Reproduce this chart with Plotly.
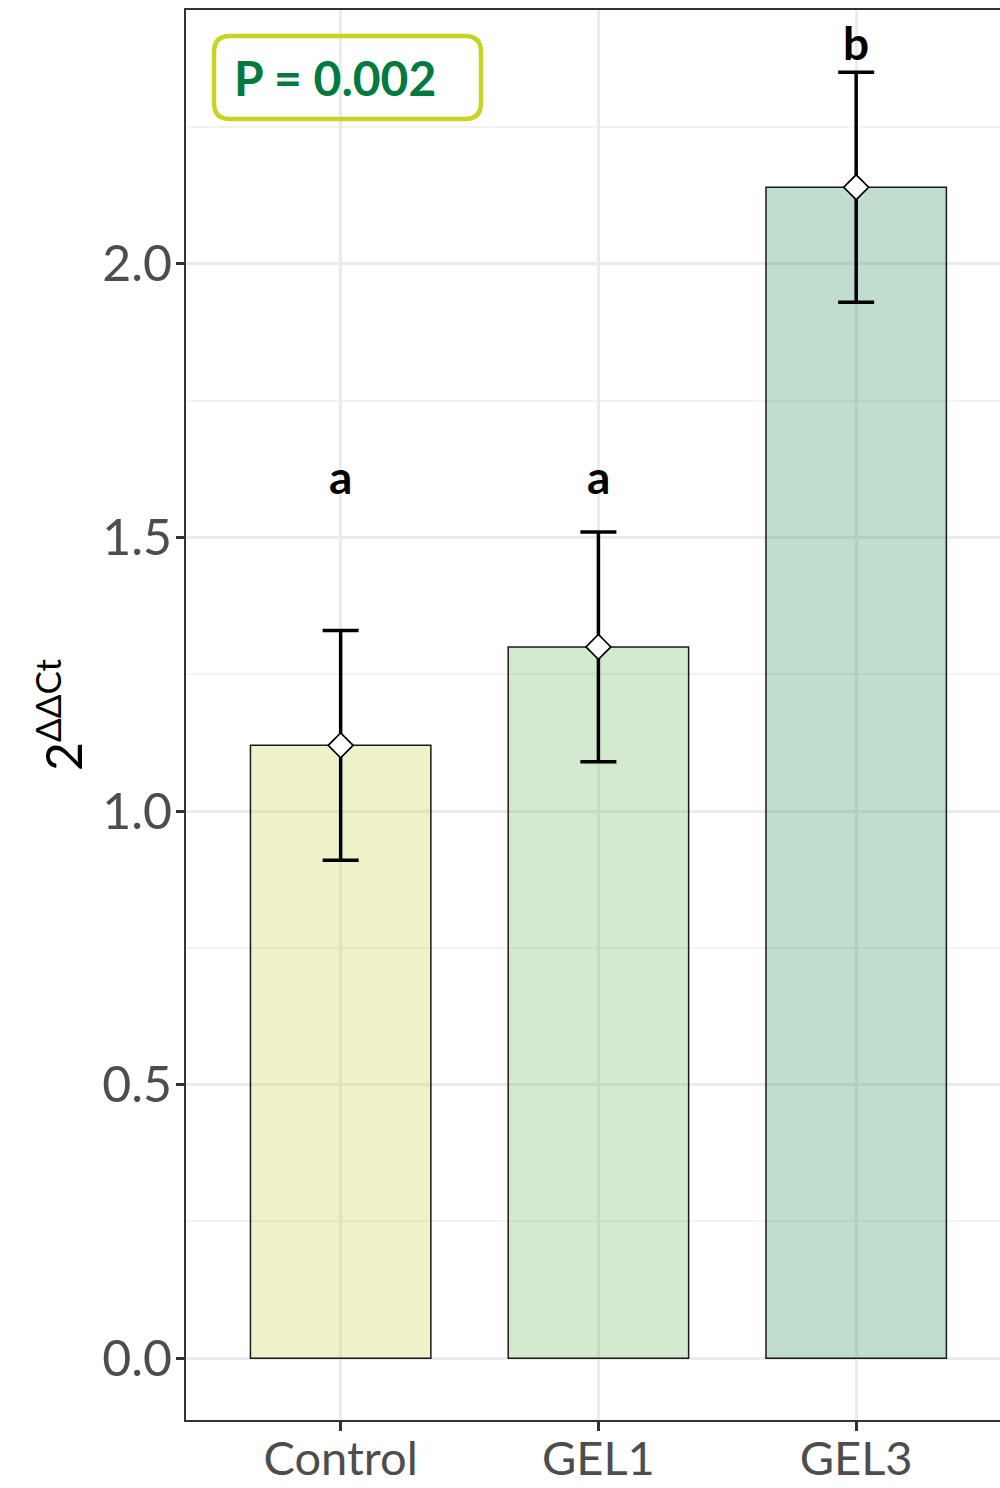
import plotly.graph_objects as go

# Relative expression (2^-ΔΔCt) per treatment group
groups = ["Control", "GEL1", "GEL3"]
means = [1.12, 1.30, 2.14]
errors = [0.21, 0.21, 0.21]
letters = ["a", "a", "b"]
letter_y = [1.612, 1.612, 2.404]
bar_colors = ["rgba(202,212,72,0.3)", "rgba(108,185,95,0.3)", "rgba(48,142,98,0.3)"]
y_ticks = [0.0, 0.5, 1.0, 1.5, 2.0]
p_label = "P = 0.002"

W, H = 1000, 1488
ML, MR, MT, MB = 186, 0, 10, 68
PW, PH = W - ML - MR, H - MT - MB

xpos = [1, 2, 3]

fig = go.Figure()

fig.add_trace(go.Bar(
    x=xpos, y=means, width=0.7,
    marker=dict(color=bar_colors, line=dict(color="#1a1a1a", width=1.5)),
    hoverinfo="skip", showlegend=False,
))

fig.add_trace(go.Scatter(
    x=xpos, y=means, mode="markers",
    marker=dict(symbol="diamond", size=19, color="white",
                line=dict(color="black", width=1.5)),
    error_y=dict(type="data", array=errors, visible=True,
                 color="black", thickness=3.5, width=18),
    showlegend=False,
))

# Draw the markers again on top of the error bar stems
fig.add_trace(go.Scatter(
    x=xpos, y=means, mode="markers",
    marker=dict(symbol="diamond", size=19, color="white",
                line=dict(color="black", width=1.5)),
    showlegend=False,
))

for x, lab, ly in zip(xpos, letters, letter_y):
    fig.add_annotation(x=x, y=ly, text=lab, showarrow=False,
                       xanchor="center", yanchor="middle",
                       font=dict(family="Lato", size=46, color="black", weight="bold"))


def px_x(px):
    return (px - ML) / PW


def px_y(py):
    return 1 - (py - MT) / PH


# Rounded box around the p-value
x0, x1, y0, y1, r = 214, 481, 36, 119, 16
path = (
    f"M {px_x(x0 + r)},{px_y(y0)} L {px_x(x1 - r)},{px_y(y0)} "
    f"Q {px_x(x1)},{px_y(y0)} {px_x(x1)},{px_y(y0 + r)} "
    f"L {px_x(x1)},{px_y(y1 - r)} "
    f"Q {px_x(x1)},{px_y(y1)} {px_x(x1 - r)},{px_y(y1)} "
    f"L {px_x(x0 + r)},{px_y(y1)} "
    f"Q {px_x(x0)},{px_y(y1)} {px_x(x0)},{px_y(y1 - r)} "
    f"L {px_x(x0)},{px_y(y0 + r)} "
    f"Q {px_x(x0)},{px_y(y0)} {px_x(x0 + r)},{px_y(y0)} Z"
)
fig.add_shape(type="path", path=path, xref="paper", yref="paper",
              line=dict(color="#c9d322", width=4.5), fillcolor="rgba(255,255,255,0)")
fig.add_annotation(x=px_x(232), y=px_y(78), xref="paper", yref="paper",
                   text=p_label, showarrow=False, xanchor="left", yanchor="middle",
                   font=dict(family="Lato", size=48, color="#007a3d", weight="bold"))

fig.update_layout(
    width=W, height=H,
    margin=dict(l=ML, r=MR, t=MT, b=MB),
    plot_bgcolor="white", paper_bgcolor="white",
    font=dict(family="Lato"),
    xaxis=dict(
        range=[0.4, 3.558], tickvals=xpos, ticktext=groups,
        tickfont=dict(size=47, color="#4d4d4d"),
        ticks="outside", ticklen=9, tickwidth=3, tickcolor="#333333",
        ticklabelstandoff=-12,
        showline=True, linecolor="#333333", linewidth=2, mirror=True,
        showgrid=True, gridcolor="#ebebeb", gridwidth=3, zeroline=False,
        automargin=False,
    ),
    yaxis=dict(
        range=[-0.113, 2.464], tickvals=y_ticks,
        ticktext=[f"{v:.1f}" for v in y_ticks],
        tickfont=dict(size=50, color="#4d4d4d"),
        ticks="outside", ticklen=8, tickwidth=3, tickcolor="#333333",
        ticklabelstandoff=-6,
        showline=True, linecolor="#333333", linewidth=2,
        showgrid=True, gridcolor="#ebebeb", gridwidth=3, zeroline=False,
        minor=dict(dtick=0.25, tick0=0, showgrid=True, gridcolor="#f2f2f2", gridwidth=2, ticks=""),
        title=dict(text="2<sup>ΔΔCt</sup>", font=dict(size=50, color="black"), standoff=4),
        automargin=False,
    ),
)

fig.write_html("out.html")
